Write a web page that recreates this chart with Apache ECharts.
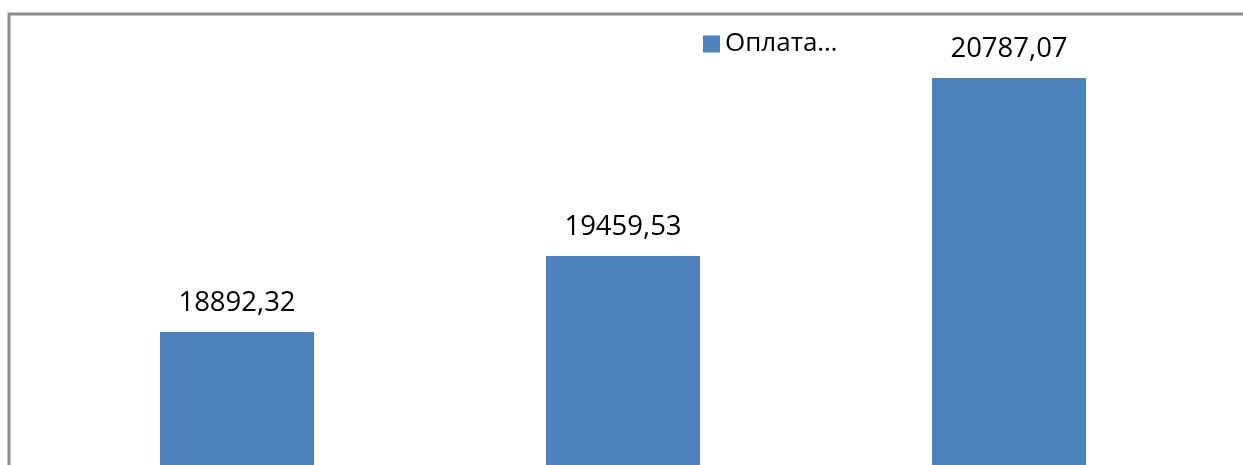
<!DOCTYPE html>
<html>
<head>
<meta charset="utf-8">
<script src="https://cdn.jsdelivr.net/npm/echarts@6/dist/echarts.min.js"></script>
<style>
html,body{margin:0;padding:0;background:#fff;}
#chart{width:1243px;height:465px;}
</style>
</head>
<body>
<div id="chart"></div>
<script>
const categories = ["1", "2", "3"];
const seriesName = "Оплата…";
const values = [18892.32, 19459.53, 20787.07];

const chart = echarts.init(document.getElementById('chart'));
chart.setOption({
  animation: false,
  backgroundColor: '#ffffff',
  graphic: [{
    type: 'rect',
    shape: { x: 9, y: 14, width: 1300, height: 500 },
    style: { fill: 'none', stroke: '#8c8c8c', lineWidth: 3 },
    z: 100
  }],
  legend: {
    show: true,
    left: 698,
    top: 26,
    icon: 'rect',
    itemWidth: 17,
    itemHeight: 17,
    itemGap: 8,
    textStyle: { fontFamily: 'Open Sans', fontSize: 26, color: '#000' },
    data: [seriesName]
  },
  grid: { left: 44, right: 41, top: 14, bottom: 0, containLabel: false },
  xAxis: {
    type: 'category',
    data: categories,
    show: false
  },
  yAxis: {
    type: 'value',
    min: 17900,
    max: 21264,
    show: false,
    splitLine: { show: false }
  },
  series: [{
    name: seriesName,
    type: 'bar',
    data: values,
    barWidth: 154,
    itemStyle: { color: '#4F81BD' },
    label: {
      show: true,
      position: 'top',
      distance: 15,
      fontFamily: 'Open Sans',
      fontSize: 27.5,
      color: '#000',
      formatter: p => p.value.toFixed(2).replace('.', ',')
    }
  }]
});
</script>
</body>
</html>
